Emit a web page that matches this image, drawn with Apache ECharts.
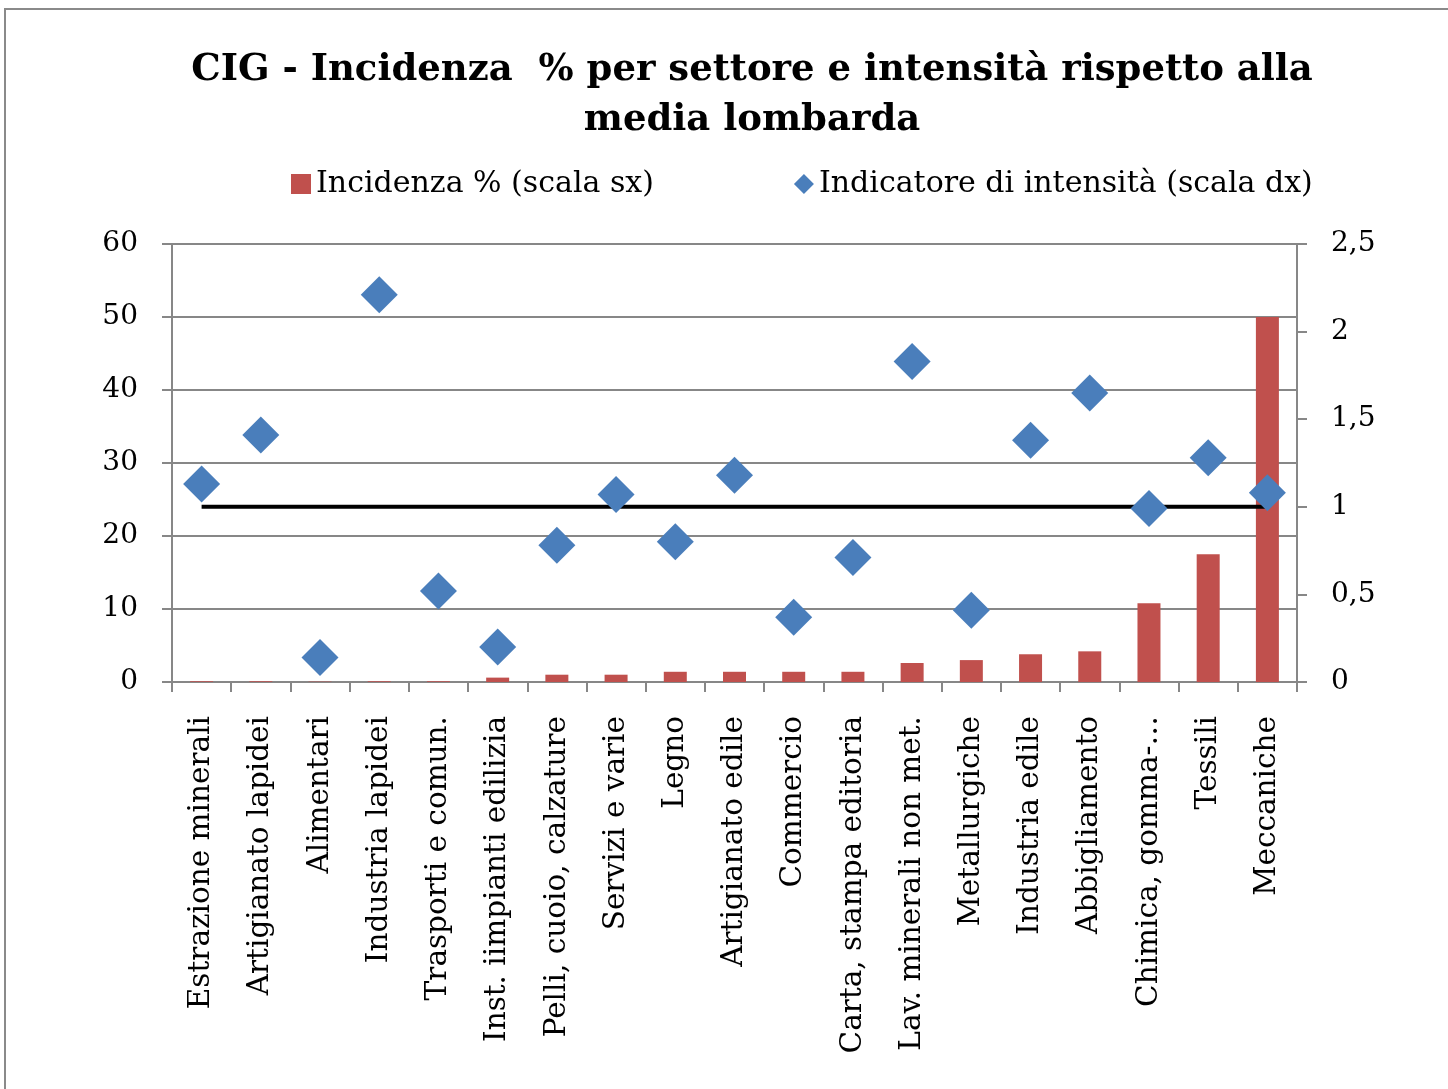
<!DOCTYPE html>
<html>
<head>
<meta charset="utf-8">
<script src="https://cdn.jsdelivr.net/npm/echarts@6/dist/echarts.min.js"></script>
<style>
html,body{margin:0;padding:0;background:#fff;}
#frame{position:absolute;left:4px;top:8px;width:1460px;height:1100px;border-left:2px solid #8a8a8a;border-top:2px solid #8a8a8a;}
#chart{position:absolute;left:0;top:0;width:1448px;height:1089px;}
</style>
</head>
<body>
<div id="frame"></div>
<div id="chart"></div>
<script>
const categories = ["Estrazione minerali","Artigianato lapidei","Alimentari","Industria lapidei","Trasporti e comun.","Inst. iimpianti edilizia","Pelli, cuoio, calzature","Servizi e varie","Legno","Artigianato edile","Commercio","Carta, stampa editoria","Lav. minerali non met.","Metallurgiche","Industria edile","Abbigliamento","Chimica, gomma-…","Tessili","Meccaniche"];
const incidenza = [0.1,0.1,0.05,0.1,0.1,0.6,1.0,1.0,1.4,1.4,1.4,1.4,2.6,3.0,3.8,4.2,10.8,17.5,50.0];
const intensita = [1.13,1.41,0.14,2.21,0.52,0.20,0.78,1.07,0.80,1.18,0.37,0.71,1.83,0.41,1.38,1.65,0.99,1.28,1.08];
const mediaLombarda = [1,1,1,1,1,1,1,1,1,1,1,1,1,1,1,1,1,1,1];
const leftTicks = {min:0,max:60,interval:10};
const rightTicks = {min:0,max:2.5,interval:0.5};

const font = "'DejaVu Serif', Georgia, serif";
const gray = '#878787';
const chart = echarts.init(document.getElementById('chart'));
chart.setOption({
  animation:false,
  title:{
    text:'CIG - Incidenza  % per settore e intensità rispetto alla\nmedia lombarda',
    left:747, textAlign:'center', top:40,
    textStyle:{fontFamily:font,fontWeight:'bold',fontSize:37,lineHeight:50,color:'#000'}
  },
  legend:{
    top:164, left:286, itemGap:140, itemWidth:20, itemHeight:20,
    textStyle:{fontFamily:font,fontSize:30,color:'#000'},
    data:[{name:'Incidenza % (scala sx)',icon:'rect'},{name:'Indicatore di intensità (scala dx)',icon:'diamond'}]
  },
  grid:{left:172,right:151,top:244,bottom:407,containLabel:false},
  xAxis:{
    type:'category', data:categories, boundaryGap:true,
    axisLine:{lineStyle:{color:gray,width:2}},
    axisTick:{show:true,length:10,interval:0,lineStyle:{color:gray,width:2}},
    axisLabel:{rotate:90,interval:0,margin:34,fontFamily:font,fontSize:29.5,color:'#000'}
  },
  yAxis:[
    {type:'value',position:'left',min:leftTicks.min,max:leftTicks.max,interval:leftTicks.interval,
     axisLine:{show:true,lineStyle:{color:gray,width:2}},
     axisTick:{show:true,length:10,lineStyle:{color:gray,width:2}},
     splitLine:{show:true,lineStyle:{color:gray,width:2}},
     axisLabel:{margin:34,fontFamily:font,fontSize:28,color:'#000'}},
    {type:'value',position:'right',min:rightTicks.min,max:rightTicks.max,interval:rightTicks.interval,
     axisLine:{show:true,lineStyle:{color:gray,width:2}},
     axisTick:{show:true,length:10,lineStyle:{color:gray,width:2}},
     splitLine:{show:false},
     axisLabel:{margin:34,fontFamily:font,fontSize:28,color:'#000',
       formatter:v=>String(v).replace('.',',')}}
  ],
  series:[
    {name:'Incidenza % (scala sx)',type:'bar',yAxisIndex:0,data:incidenza,barWidth:23,
     itemStyle:{color:'#C0504D'}},
    {name:'media',type:'line',yAxisIndex:1,data:mediaLombarda,symbol:'none',
     lineStyle:{color:'#000',width:4},z:3},
    {name:'Indicatore di intensità (scala dx)',type:'scatter',yAxisIndex:1,data:intensita,
     symbol:'diamond',symbolSize:[37,37],itemStyle:{color:'#4A7EBB',opacity:1},z:4}
  ]
});
</script>
</body>
</html>
